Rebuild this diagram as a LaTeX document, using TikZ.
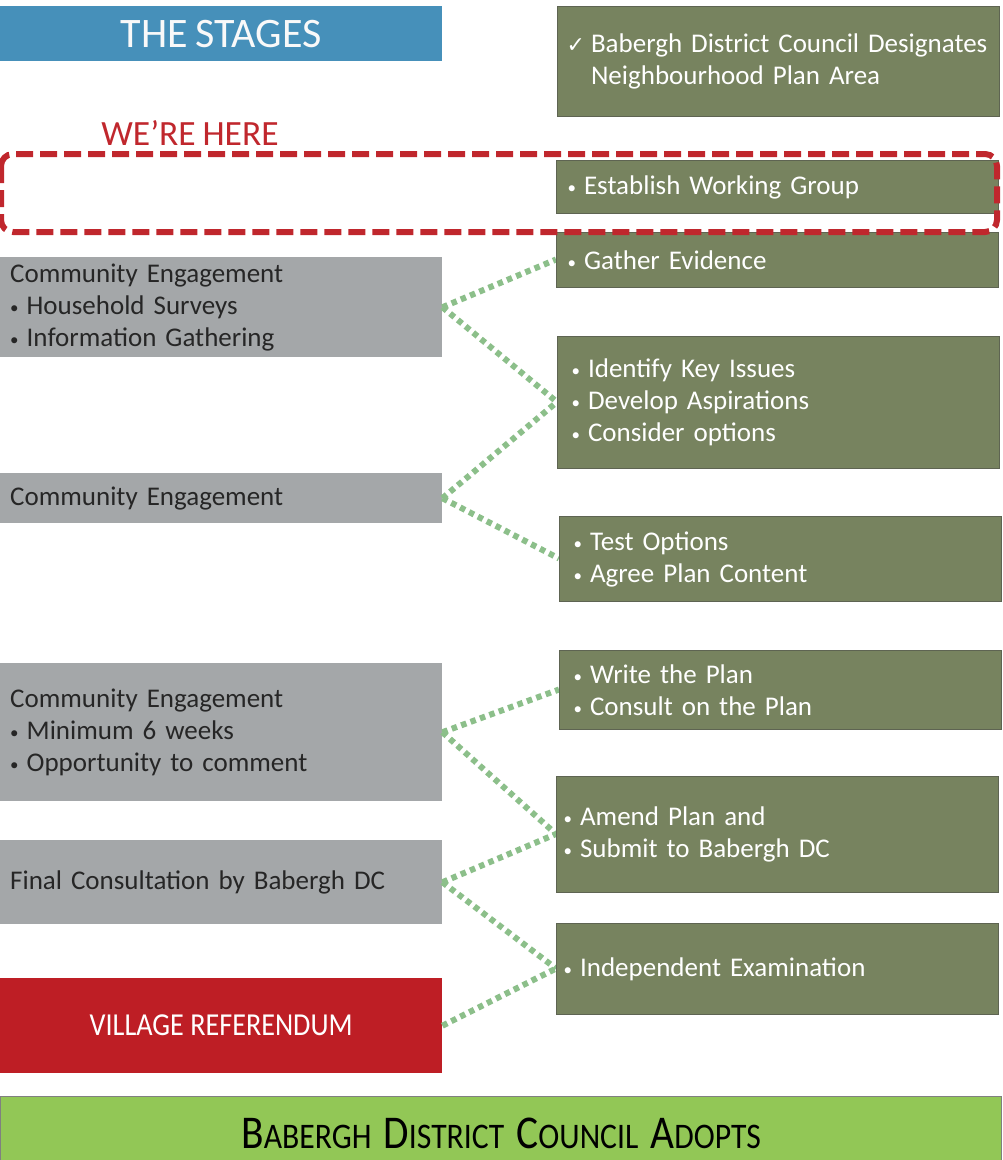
\documentclass[tikz,border=0pt]{standalone}
\usepackage{fontspec}
\setmainfont{Carlito}[WordSpace=0.85]
\newfontfamily\symf{DejaVu Sans}
\newfontfamily\condf[FakeStretch=0.88]{Carlito}
\definecolor{hdrblue}{HTML}{4690BA}
\definecolor{olive}{HTML}{77835F}
\definecolor{oliveborder}{HTML}{5E6452}
\definecolor{stagegray}{HTML}{A4A7A9}
\definecolor{darktext}{HTML}{262626}
\definecolor{refred}{HTML}{BE1E25}
\definecolor{hererred}{HTML}{C0272D}
\definecolor{adoptgreen}{HTML}{92C756}
\definecolor{linkgreen}{HTML}{8CBF8A}
\newcommand{\bodyfont}{\fontsize{27}{32}\selectfont}
\newcommand{\bul}{\raisebox{1pt}{\fontsize{17}{17}\selectfont •}\hspace{8pt}}
\newcommand{\scword}[2]{{\fontsize{47}{47}\selectfont\condf #1}{\fontsize{36}{47}\selectfont\condf #2}}
\tikzset{
  greenbox/.style={draw=oliveborder, line width=1.2pt, fill=olive, text=white, align=left,
    anchor=north west, font=\bodyfont, minimum width=442pt, inner ysep=0pt, inner xsep=#1,
    text width=442pt-2*#1},
  graybox/.style={draw=none, fill=stagegray, text=darktext, align=left,
    anchor=north west, font=\bodyfont, minimum width=442pt, inner ysep=0pt, inner xsep=10pt,
    text width=422pt},
  link/.style={draw=linkgreen, line width=6pt, dash pattern=on 5.5pt off 4.5pt},
}
\begin{document}
\begin{tikzpicture}[x=1pt,y=-1pt]
\useasboundingbox (0,0) rectangle (1003,1160);
\clip (0,0) rectangle (1003,1160);

% header
\node[fill=hdrblue, anchor=north west, minimum width=442pt, minimum height=55pt, inner sep=0pt,
  text=white!95!gray, font=\fontsize{42}{42}\selectfont] (hdr) at (0,6) {THE STAGES};

% left column
\node[graybox, minimum height=100pt] (g1) at (0,257) {Community Engagement\\\bul Household Surveys\\\bul Information Gathering};
\node[graybox, minimum height=50pt] (g2) at (0,473) {Community Engagement};
\node[graybox, minimum height=138pt] (g3) at (0,663) {Community Engagement\\\bul Minimum 6 weeks\\\bul Opportunity to comment};
\node[graybox, minimum height=84pt] (g4) at (0,840) {Final Consultation by Babergh DC};
\node[fill=refred, anchor=north west, minimum width=442pt, minimum height=95pt, inner sep=0pt,
  text=white, font=\fontsize{32}{32}\selectfont\condf] (vr) at (0,978) {VILLAGE REFERENDUM};

% connectors (behind right boxes)
\draw[link] (g1.east) -- (556,259.5) coordinate (gatherin);
\draw[link] (g1.east) -- (557,402) coordinate (identin);
\draw[link] (g2.east) -- (identin);
\draw[link] (g2.east) -- (559,558.5) coordinate (testin);
\draw[link] (g3.east) -- (559,689.5) coordinate (writein);
\draw[link] (g3.east) -- (556,834) coordinate (amendin);
\draw[link] (g4.east) -- (amendin);
\draw[link] (g4.east) -- (556,968.5) coordinate (indepin);
\draw[link] (vr.east) -- (indepin);

% right column
\node[greenbox=9pt, minimum height=110pt] (designate) at (557,6)
  {{\symf\fontsize{22}{22}\selectfont ✓}\hspace{6pt}Babergh District Council Designates\\\phantom{{\symf\fontsize{22}{22}\selectfont ✓}\hspace{6pt}}Neighbourhood Plan Area};
\node[greenbox=11pt, minimum height=53pt] (establish) at (556,160) {\bul Establish Working Group};
\node[greenbox=11pt, minimum height=55pt] (gather) at (556,232) {\bul Gather Evidence};
\node[greenbox=14pt, minimum height=132pt] (identify) at (557,336) {\bul Identify Key Issues\\\bul Develop Aspirations\\\bul Consider options};
\node[greenbox=14pt, minimum height=85pt] (test) at (559,516) {\bul Test Options\\\bul Agree Plan Content};
\node[greenbox=14pt, minimum height=79pt] (write) at (559,650) {\bul Write the Plan\\\bul Consult on the Plan};
\node[greenbox=7pt, minimum height=116pt] (amend) at (556,776) {\bul Amend Plan and\\\bul Submit to Babergh DC};
\node[greenbox=7pt, minimum height=91pt] (indep) at (556,923) {\bul Independent Examination};

% we're here
\node[text=hererred, font=\fontsize{35.5}{35.5}\selectfont, inner sep=0pt] (here) at (190,133) {WE’RE HERE};
\draw[hererred, line width=6pt, dash pattern=on 17pt off 7pt, rounded corners=12pt]
  (1,154) rectangle (997,232);

% bottom
\node[draw=gray, line width=1.2pt, fill=adoptgreen, anchor=north west, minimum width=1001pt,
  minimum height=74pt, inner sep=0pt, text=black] (adopt) at (0,1096)
  {\scword{B}{ABERGH}\hspace{12pt}\scword{D}{ISTRICT}\hspace{12pt}\scword{C}{OUNCIL}\hspace{12pt}\scword{A}{DOPTS}};
\end{tikzpicture}
\end{document}
